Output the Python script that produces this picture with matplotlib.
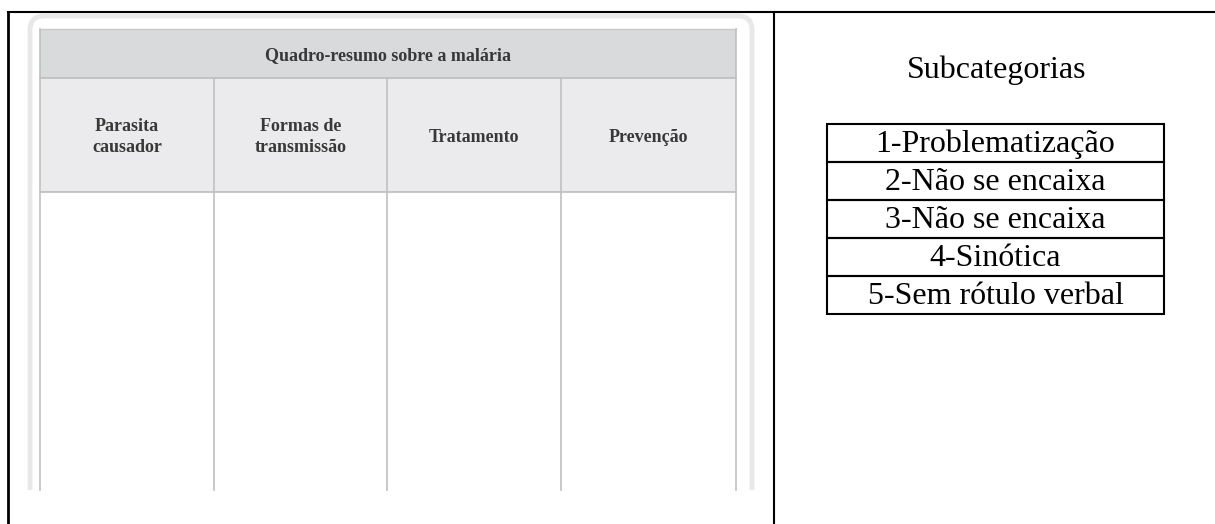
import matplotlib.pyplot as plt
from matplotlib.patches import Rectangle, FancyBboxPatch

titulo_quadro = "Quadro-resumo sobre a malária"
colunas = ["Parasita\ncausador", "Formas de\ntransmissão", "Tratamento", "Prevenção"]
titulo_sub = "Subcategorias"
subcategorias = ["1-Problematização", "2-Não se encaixa", "3-Não se encaixa",
                 "4-Sinótica", "5-Sem rótulo verbal"]

fig = plt.figure(figsize=(12.15, 5.24), dpi=100)
ax = fig.add_axes([0, 0, 1, 1])
ax.set_xlim(0, 1215)
ax.set_ylim(524, 0)
ax.axis("off")

# moldura externa
ax.plot([7.5, 7.5], [11.5, 524], color="black", lw=2)
ax.plot([7.5, 1215], [11.5, 11.5], color="black", lw=1.5)
ax.plot([773.5, 773.5], [11.5, 524], color="black", lw=1.5)

# cartão com sombra (recortado em baixo)
x0, x1 = 40, 736
bordas = [40, 214, 387, 561, 736]
y_tit, y_cab, y_corpo, y_fim = 29, 78, 192, 490
cartao = FancyBboxPatch((30, 16), 722, 540, boxstyle="round,pad=0,rounding_size=14",
                        fc="white", ec="#e8e8e8", lw=3.5)
ax.add_patch(cartao)
clip = Rectangle((0, 0), 1215, y_fim, transform=ax.transData)
cartao.set_clip_path(clip)

# tabela da esquerda
ax.add_patch(Rectangle((x0, y_tit), x1 - x0, y_cab - y_tit, fc="#d9dadc", ec="none"))
ax.add_patch(Rectangle((x0, y_cab), x1 - x0, y_corpo - y_cab, fc="#ebebed", ec="none"))
ax.plot([x0, x1], [y_cab, y_cab], color="#bdbdbd", lw=1.2)
ax.plot([x0, x1], [y_corpo, y_corpo], color="#bdbdbd", lw=1.2)
ax.plot([x0, x1], [y_tit, y_tit], color="#c8c8c8", lw=1)
for i, bx in enumerate(bordas):
    topo = y_tit if i in (0, len(bordas) - 1) else y_cab
    ax.plot([bx, bx], [topo, y_fim], color="#c0c0c0", lw=1.2)

fonte_quadro = dict(family="Liberation Serif", weight="bold", color="#383838")
ax.text((x0 + x1) / 2, (y_tit + y_cab) / 2 + 2, titulo_quadro, ha="center", va="center",
        fontsize=13, **fonte_quadro)
for i, col in enumerate(colunas):
    cx = (bordas[i] + bordas[i + 1]) / 2
    ax.text(cx, (y_cab + y_corpo) / 2 + 2, col, ha="center", va="center",
            fontsize=13, linespacing=1.35, **fonte_quadro)

# subcategorias
ax.text(997, 70, titulo_sub, ha="center", va="center", family="Liberation Serif",
        fontsize=23, color="black")
tx0, tx1, ty0, alt = 827, 1164, 123.5, 38
for i, s in enumerate(subcategorias):
    y = ty0 + i * alt
    ax.add_patch(Rectangle((tx0, y), tx1 - tx0, alt, fc="none", ec="black", lw=1.5))
    ax.text((tx0 + tx1) / 2, y + alt / 2 + 1.5, s, ha="center", va="center",
            family="Liberation Serif", fontsize=23, color="black")

fig.savefig("out.png", dpi=100)
